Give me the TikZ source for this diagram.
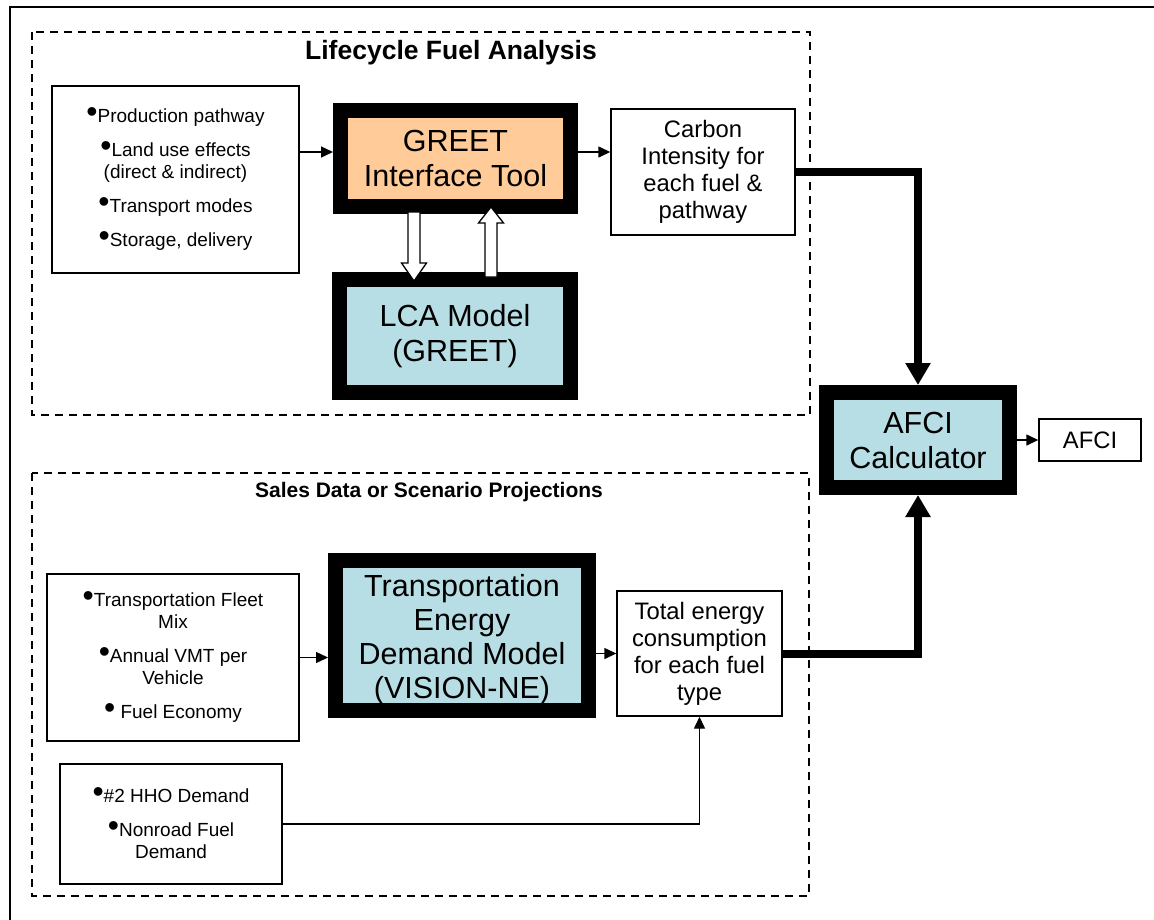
\documentclass[tikz,border=0pt]{standalone}
\usepackage{fontspec}
\setmainfont{Liberation Sans}
\usetikzlibrary{arrows.meta,calc}
\definecolor{greetorange}{RGB}{255,204,153}
\definecolor{modelblue}{RGB}{183,222,228}
\newcommand\bul{{\fontsize{32}{30}\selectfont\smash{•}}}
\begin{document}
\begin{tikzpicture}[x=1pt,y=-1pt,
  plainbox/.style={draw=black, line width=1.4pt, fill=white, inner sep=0pt, align=center},
  smalltext/.style={font=\fontsize{19}{22}\selectfont},
  midtext/.style={font=\fontsize{23.8}{27}\selectfont},
  bigtext/.style={font=\fontsize{30.5}{34}\selectfont, align=center, inner sep=0pt},
  heavybox/.style={draw=black, line width=15pt, inner sep=0pt, align=center, font=\fontsize{30.5}{35}\selectfont},
  dashbox/.style={draw=black, line width=1.5pt, dash pattern=on 8pt off 6pt},
  arr/.style={line width=1.4pt, -{Triangle[length=12pt,width=11pt]}},
  fatarr/.style={line width=8pt, -{Triangle[length=22pt,width=24pt]}},
  hollow/.style={draw=black, line width=1.3pt, fill=white, line join=miter}
]
\useasboundingbox (0,0) rectangle (1154,919);
% outer frame
\draw[line width=2.5pt] (10,925) -- (10,7) -- (1160,7);

% dashed groups
\draw[dashbox] (32,32) rectangle (810,415);
\draw[dashbox] (32,473) rectangle (809,896);
\node[font=\fontsize{26.5}{30}\selectfont\bfseries] (t1) at (451,53) {Lifecycle Fuel Analysis};
\node[font=\fontsize{21}{25}\selectfont\bfseries] (t2) at (429,492) {Sales Data or Scenario Projections};

% upper part
\node[plainbox, smalltext, minimum width=247pt, minimum height=187pt] (in1) at (175.5,179.5)
  {\bul Production pathway\\[12pt]
   \bul Land use effects\\ (direct \& indirect)\\[12pt]
   \bul Transport modes\\[12pt]
   \bul Storage, delivery};
\node[heavybox, fill=greetorange, minimum width=230pt, minimum height=96pt] (greet) at (455.5,158.5)
  {GREET\\Interface Tool};
\node[heavybox, fill=modelblue, minimum width=231pt, minimum height=113pt] (lca) at (455,336)
  {LCA Model\\(GREET)};
\node[plainbox, midtext, minimum width=184pt, minimum height=126pt] (ci) at (703,172)
  {Carbon\\Intensity for\\each fuel \&\\pathway};

% calculator
\node[heavybox, fill=modelblue, minimum width=183pt, minimum height=95pt] (calc) at (918,440)
  {AFCI\\Calculator};
\node[plainbox, midtext, minimum width=102pt, minimum height=42pt] (afci) at (1090,440) {AFCI};

% lower part
\node[plainbox, smalltext, minimum width=252pt, minimum height=167pt] (in2) at (173,657.5)
  {\bul Transportation Fleet\\Mix\\[12pt]
   \bul Annual VMT per\\Vehicle\\[12pt]
   \bul\ Fuel Economy};
\node[heavybox, fill=modelblue, minimum width=253pt, minimum height=150pt] (vis) at (462,635.5) {};
\node[bigtext] (vistext) at ([yshift=-4pt]vis.center)
  {Transportation\\Energy\\Demand Model\\(VISION-NE)};
\node[plainbox, midtext, minimum width=165pt, minimum height=125pt] (tot) at (699.5,653.5)
  {Total energy\\consumption\\for each fuel\\type};
\node[plainbox, smalltext, minimum width=222pt, minimum height=120pt] (in3) at (171,824)
  {\bul\#2 HHO Demand\\[12pt]
   \bul Nonroad Fuel\\Demand};

% connectors
\draw[arr] ([yshift=6.5pt]greet.west -| in1.east) -- ([yshift=6.5pt]greet.west);
\draw[arr] ([yshift=6.5pt]greet.east) -- ([yshift=6.5pt]greet.east -| ci.west);
\draw[fatarr] (ci.east) -| (calc.north);
\draw[arr] (calc.east) -- (afci.west);
\draw[arr] (in2.east) -- (in2.east -| vis.west);
\draw[arr] (tot.west -| vis.east) -- (tot.west);
\draw[arr] (in3.east) -| (tot.south);
\draw[fatarr] (tot.east) -| (calc.south);

% hollow arrows between GREET tool and LCA model
\coordinate (dn) at ($(greet.south)+(-41.5,-2)$);
\draw[hollow] (dn) ++(-6,0) -- ++(0,51) -- ++(-6.5,0) -- ++(12.5,18) -- ++(12.5,-18) -- ++(-6.5,0) -- ++(0,-51) -- cycle;
\coordinate (up) at ($(lca.north)+(36,5)$);
\draw[hollow] (up) ++(-6,0) -- ++(0,-54) -- ++(-6.5,0) -- ++(12.5,-16) -- ++(12.5,16) -- ++(-6.5,0) -- ++(0,54) -- cycle;
\end{tikzpicture}
\end{document}
